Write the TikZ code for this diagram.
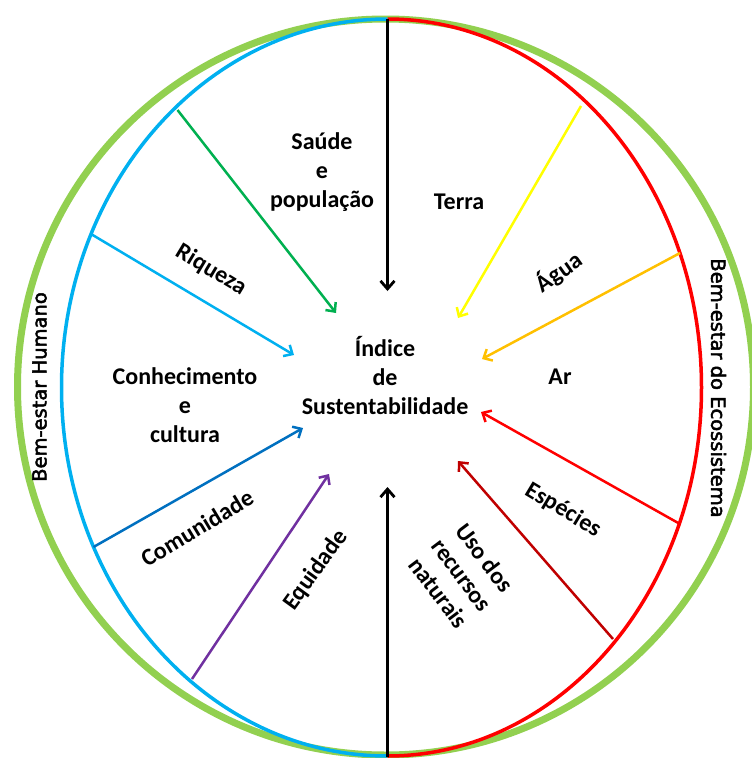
\documentclass[tikz,border=0pt]{standalone}
\usepackage{fontspec}
\setmainfont{Carlito}
\newfontfamily\dejavu[FakeBold=2.5]{DejaVu Sans}
\usetikzlibrary{arrows.meta}
\definecolor{ringgreen}{HTML}{92D050}
\definecolor{humblue}{HTML}{00B0F0}
\definecolor{ecored}{HTML}{FF0000}
\definecolor{agreen}{HTML}{00B050}
\definecolor{alblue}{HTML}{00B0F0}
\definecolor{adblue}{HTML}{0070C0}
\definecolor{apurple}{HTML}{7030A0}
\definecolor{ayellow}{HTML}{FFFF00}
\definecolor{aorange}{HTML}{FFC000}
\definecolor{ared}{HTML}{FF0000}
\definecolor{adred}{HTML}{C00000}
\begin{document}
\begin{tikzpicture}[x=1pt,y=-1pt,
  arr/.style={line width=2.5pt,-{Straight Barb[length=7pt,width=13pt]}},
  blackarr/.style={line width=2.8pt,-{Straight Barb[length=8pt,width=14pt]}},
  lab/.style={font=\bfseries\fontsize{24}{29}\selectfont, align=center, inner sep=0pt},
  side/.style={font=\dejavu\fontsize{19.5}{23}\selectfont, inner sep=0pt}]
\useasboundingbox (0,0) rectangle (752,758);
\fill[white] (0,0) rectangle (752,758);
% rings
\draw[ringgreen, line width=7pt] (385.5,387) circle [radius=368];
\draw[humblue, line width=3.5pt] (387.5,19) arc[start angle=270, end angle=90, x radius=326, y radius=368.5];
\draw[ecored, line width=3.5pt] (387.5,19) arc[start angle=-90, end angle=90, x radius=314, y radius=368.5];
% coordinates
\coordinate (top) at (387.5,19);
\coordinate (topT) at (387.5,291);
\coordinate (bot) at (387.5,757);
\coordinate (botT) at (387.5,487);
\coordinate (gS) at (177.5,110);  \coordinate (gT) at (336,313);
\coordinate (lbS) at (91,234);    \coordinate (lbT) at (294,355);
\coordinate (dbS) at (93.5,547);  \coordinate (dbT) at (303,428);
\coordinate (pS) at (192,679);    \coordinate (pT) at (329,474);
\coordinate (yS) at (581,106);    \coordinate (yT) at (458,318);
\coordinate (oS) at (680,253);    \coordinate (oT) at (482,359);
\coordinate (rS) at (680,524);    \coordinate (rT) at (481,412);
\coordinate (drS) at (613,639);   \coordinate (drT) at (458,461);
% arrows
\draw[blackarr] (top) -- (topT);
\draw[blackarr] (bot) -- (botT);
\draw[arr, agreen] (gS) -- (gT);
\draw[arr, alblue] (lbS) -- (lbT);
\draw[arr, adblue] (dbS) -- (dbT);
\draw[arr, apurple] (pS) -- (pT);
\draw[arr, ayellow] (yS) -- (yT);
\draw[arr, aorange] (oS) -- (oT);
\draw[arr, ared] (rS) -- (rT);
\draw[arr, adred] (drS) -- (drT);
% labels
\node[lab] (saude) at (322,172) {Saúde\\e\\população};
\node[lab] (terra) at (459,202) {Terra};
\node[lab] (riqueza) at (211,270) [rotate=-31] {Riqueza};
\node[lab] (agua) at (559,272) [rotate=35] {Água};
\node[lab] (indice) at (385,376) {Índice\\de\\Sustentabilidade};
\node[lab] (conhec) at (185,405) {Conhecimento\\e\\cultura};
\node[lab] (ar) at (560,377) {Ar};
\node[lab] (comun) at (197,528) [rotate=31] {Comunidade};
\node[lab] (equid) at (316,570) [rotate=54] {Equidade};
\node[lab] (especies) at (563,510) [rotate=-31] {Espécies};
\node[lab] (uso) at (462,575) [rotate=-53] {Uso dos\\recursos\\naturais};
\node[side] (hum) at (39.5,387) [rotate=90] {Bem-estar Humano};
\node[side] (eco) at (718.5,388) [rotate=-90] {Bem-estar do Ecossistema};
\end{tikzpicture}
\end{document}
